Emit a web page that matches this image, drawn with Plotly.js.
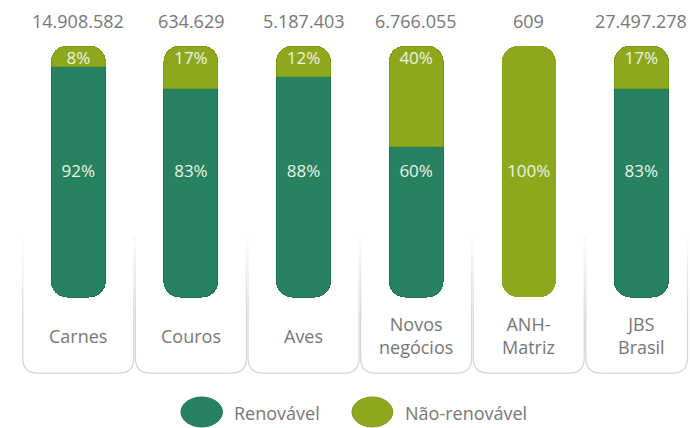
<!DOCTYPE html>
<html>
<head>
<meta charset="utf-8">
<script src="https://cdn.plot.ly/plotly-3.0.1.min.js"></script>
<style>
  html, body { margin: 0; padding: 0; background: #fff; }
  #chart { width: 690px; height: 428px; }
</style>
</head>
<body>
<div id="chart"></div>
<script>
// values
const categories = ['Carnes', 'Couros', 'Aves', 'Novos<br>negócios', 'ANH-<br>Matriz', 'JBS<br>Brasil'];
const totals = ['14.908.582', '634.629', '5.187.403', '6.766.055', '609', '27.497.278'];
const renovavel = [92, 83, 88, 60, 0, 83];
const naoRenovavel = [8, 17, 12, 40, 100, 17];

const green = '#268260';
const olive = '#8da81d';
const greenEdge = '#1f7353';
const oliveEdge = '#7f9818';
const grey = '#777777';
const clear = 'rgba(0,0,0,0)';
const yMin = -33.07;

const xs = categories.map((c, i) => i);

// a column is cut at the junction: the bottom piece is the outer end of a stack
// on a reversed axis (rounded at the bottom), the top piece the outer end of a
// stack on a normal axis (rounded at the top). one-colour columns are cut at 50.
const twoParts = renovavel.map((r, i) => r > 0 && naoRenovavel[i] > 0);
const junction = renovavel.map((r, i) => twoParts[i] ? r : 50);
const bottomColor = renovavel.map(r => r > 0 ? green : olive);
const topColor = naoRenovavel.map(n => n > 0 ? olive : green);
const edgeWidth = twoParts.map(t => t ? 1 : 0);
const edgeOf = c => c === green ? greenEdge : oliveEdge;

// reversed axis 'y': value there is 100 - percent
const bottomSpacer = {
  type: 'bar', x: xs, y: junction.map(j => 100 - j), width: 0.48, yaxis: 'y',
  marker: {color: clear, line: {width: 0}}, hoverinfo: 'skip', showlegend: false,
};
const bottomPiece = {
  type: 'bar', x: xs, y: junction, width: 0.48, yaxis: 'y',
  marker: {color: bottomColor, cornerradius: 16,
    line: {width: edgeWidth, color: bottomColor.map(edgeOf)}},
  hoverinfo: 'skip', showlegend: false,
};
// normal axis 'y2'
const topSpacer = {
  type: 'bar', x: xs, y: junction, width: 0.48, yaxis: 'y2',
  marker: {color: clear, line: {width: 0}}, hoverinfo: 'skip', showlegend: false,
};
const topPiece = {
  type: 'bar', x: xs, y: junction.map(j => 100 - j), width: 0.48, yaxis: 'y2',
  marker: {color: topColor, cornerradius: 16,
    line: {width: edgeWidth, color: topColor.map(edgeOf)}},
  hoverinfo: 'skip', showlegend: false,
};

// percentage labels: bottom segment in the middle, top segment near the top
const lowText = renovavel.map((r, i) => (r > 0 ? r : naoRenovavel[i]) + '%');
const topText = renovavel.map((r, i) => twoParts[i] ? naoRenovavel[i] + '%' : '');
const pctFont = {family: 'Open Sans, sans-serif', size: 17, color: '#eef3e6'};
const lowLabels = {
  type: 'scatter', mode: 'text', x: xs, y: xs.map(() => 49.5), text: lowText, yaxis: 'y2',
  textfont: pctFont, hoverinfo: 'skip', showlegend: false,
};
const topLabels = {
  type: 'scatter', mode: 'text', x: xs, y: xs.map(() => 94.5), text: topText, yaxis: 'y2',
  textfont: pctFont, hoverinfo: 'skip', showlegend: false,
};

const annotations = [];
xs.forEach(i => {
  annotations.push({
    x: i, y: 100, xref: 'x', yref: 'y2', yanchor: 'bottom', yshift: 11,
    text: totals[i], showarrow: false,
    font: {family: 'Open Sans, sans-serif', size: 18, color: grey},
  });
  annotations.push({
    x: i, y: -15.5, xref: 'x', yref: 'y2', yanchor: 'middle',
    text: categories[i], showarrow: false,
    font: {family: 'Open Sans, sans-serif', size: 18, color: grey},
  });
});
// legend text
annotations.push({x: 0.3144, y: -0.0988, xref: 'paper', yref: 'paper', xanchor: 'left',
  yanchor: 'middle', text: 'Renovável', showarrow: false,
  font: {family: 'Open Sans, sans-serif', size: 18, color: grey}});
annotations.push({x: 0.5704, y: -0.0988, xref: 'paper', yref: 'paper', xanchor: 'left',
  yanchor: 'middle', text: 'Não-renovável', showarrow: false,
  font: {family: 'Open Sans, sans-serif', size: 18, color: grey}});

// cards behind the category names, sides fading out upwards
const shapes = [];
const cardLine = '#d4d4d4';
const yb = -30.3, rx = 0.133, ry = 6;
xs.forEach(i => {
  const x0 = i - 0.493;
  const x1 = Math.min(i + 0.493, 5.41);
  shapes.push({
    type: 'path', xref: 'x', yref: 'y2', layer: 'below',
    path: `M${x0},-8 L${x0},${yb + ry} Q${x0},${yb} ${x0 + rx},${yb} L${x1 - rx},${yb} Q${x1},${yb} ${x1},${yb + ry} L${x1},-8`,
    line: {color: cardLine, width: 1.2},
  });
  const steps = 8;
  for (let k = 0; k < steps; k++) {
    const ya = 24 - k * 4, yc = ya - 4;
    const op = (k + 1) / (steps + 1);
    [x0, x1].forEach(xx => shapes.push({
      type: 'line', xref: 'x', yref: 'y2', layer: 'below',
      x0: xx, x1: xx, y0: ya, y1: yc, opacity: op,
      line: {color: cardLine, width: 1.2},
    }));
  }
});
// legend ellipses
shapes.push({type: 'circle', xref: 'paper', yref: 'paper', x0: 0.238, x1: 0.300, y0: -0.1407, y1: -0.0509,
  fillcolor: green, line: {color: greenEdge, width: 1}});
shapes.push({type: 'circle', xref: 'paper', yref: 'paper', x0: 0.494, x1: 0.555, y0: -0.1407, y1: -0.0509,
  fillcolor: olive, line: {color: oliveEdge, width: 1}});

const hidden = {showgrid: false, zeroline: false, showticklabels: false, fixedrange: true};
const layout = {
  width: 690, height: 428,
  margin: {l: 22, r: 0, t: 46, b: 48},
  paper_bgcolor: '#fff', plot_bgcolor: '#fff',
  barmode: 'stack',
  showlegend: false,
  xaxis: Object.assign({range: [-0.5, 5.432]}, hidden),
  yaxis: Object.assign({range: [100 - yMin, 0]}, hidden),
  yaxis2: Object.assign({range: [yMin, 100], overlaying: 'y'}, hidden),
  annotations: annotations,
  shapes: shapes,
};

Plotly.newPlot('chart', [bottomSpacer, bottomPiece, topSpacer, topPiece, lowLabels, topLabels], layout,
  {displayModeBar: false, staticPlot: true});
</script>
</body>
</html>
